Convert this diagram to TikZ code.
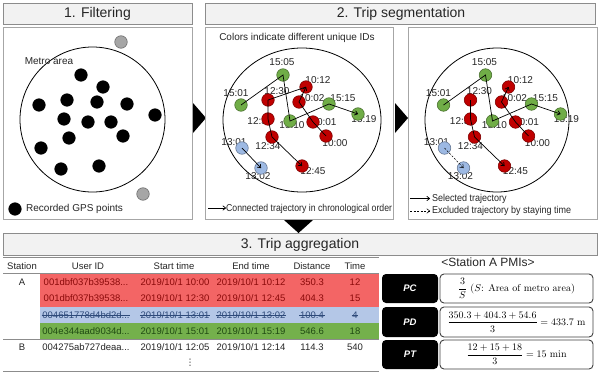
\documentclass[tikz,border=0pt]{standalone}
\usepackage[no-math]{fontspec}
\setsansfont{Liberation Sans}
\renewcommand{\familydefault}{\sfdefault}
\newfontfamily\narrowA[FakeStretch=0.87]{Liberation Sans}
\newfontfamily\narrowB[FakeStretch=0.90]{Liberation Sans}
\newfontfamily\dejavu{DejaVu Sans}
\usetikzlibrary{arrows.meta}
\definecolor{cText}{HTML}{262626}
\definecolor{cTitle}{HTML}{F2F2F2}
\definecolor{cBorder}{HTML}{8C8C8C}
\definecolor{cPanel}{HTML}{A6A6A6}
\definecolor{cr}{HTML}{C00000}
\definecolor{cg}{HTML}{70AD47}
\definecolor{cb}{HTML}{9DB9E3}
\definecolor{cgray}{HTML}{A6A6A6}
\definecolor{bandR}{HTML}{F36565}
\definecolor{bandB}{HTML}{B4C7E7}
\definecolor{bandG}{HTML}{74B04C}
\definecolor{txtR}{HTML}{8B0A0A}
\definecolor{txtB}{HTML}{2E4A7A}
\definecolor{txtG}{HTML}{1F4A12}
\definecolor{boxEdge}{HTML}{404040}
\tikzset{
  titlebox/.style={draw=cBorder, fill=cTitle, line width=0.8pt},
  panel/.style={draw=cPanel, line width=0.8pt},
  ttl/.style={font=\fontsize{14}{14}\selectfont, text=cText, inner sep=0pt},
  lbl/.style={font=\fontsize{10}{10}\selectfont, text=cText, inner sep=0pt},
  gps/.style={circle, minimum size=12.5pt, inner sep=0pt, fill=#1, draw=#1!65!black, line width=0.6pt},
  traj/.style={line width=0.7pt, -{To[length=3.5pt,width=5pt]}},
  trajp/.style={line width=0.7pt},
  tab/.style={font=\fontsize{9.5}{9.5}\selectfont, inner sep=0pt, text=cText},
  tline/.style={draw=cBorder, line width=0.9pt},
  pmikey/.style={fill=black, rounded corners=4pt},
  pmival/.style={draw=boxEdge, fill=white, line width=0.9pt, rounded corners=4pt},
  pmitxt/.style={font=\fontsize{9.5}{9.5}\selectfont\bfseries\itshape, text=white, inner sep=0pt},
  formula/.style={font=\fontsize{10}{12}\selectfont\rmfamily, inner sep=0pt, text=black},
}
\newcommand\tripscatter[1]{%
  \foreach \n/\t/\x/\y/\lx/\ly/\c in {1505/15:05/283/75/282/62/cg, 1501/15:01/241/105/236/93/cg, 1230/12:30/268/100/277/91/cr, 1012/10:12/306/87/318/80/cr, 1002/10:02/299/102/312/98/cr, 1515/15:15/329/104/343/98/cg, 1519/15:19/358/114/364/119/cg, 1232/12:32/268/119/260/121/cr, 1510/15:10/290/121/292/125/cg, 1001/10:01/313/122/324/122/cr, 1000/10:00/326/136/335/143/cr, 1234/12:34/272/137/268/146/cr, 1301/13:01/242/148/234/142/cb, 1302/13:02/261/168/258/176/cb, 1245/12:45/302/166/313/171/cr}{%
    \node[lbl] (#1l\n) at (\lx,\ly) {\t};
  }
  \foreach \n/\t/\x/\y/\lx/\ly/\c in {1505/15:05/283/75/282/62/cg, 1501/15:01/241/105/236/93/cg, 1230/12:30/268/100/277/91/cr, 1012/10:12/306/87/318/80/cr, 1002/10:02/299/102/312/98/cr, 1515/15:15/329/104/343/98/cg, 1519/15:19/358/114/364/119/cg, 1232/12:32/268/119/260/121/cr, 1510/15:10/290/121/292/125/cg, 1001/10:01/313/122/324/122/cr, 1000/10:00/326/136/335/143/cr, 1234/12:34/272/137/268/146/cr, 1301/13:01/242/148/234/142/cb, 1302/13:02/261/168/258/176/cb, 1245/12:45/302/166/313/171/cr}{%
    \node[gps=\c] (#1\n) at (\x,\y) {};
  }
}
\newcommand\tabrow[8]{%
  \node[tab,text=#3] (#1id) at (86,#2) {#4};
  \node[tab,text=#3] (#1st) at (175,#2) {#5};
  \node[tab,text=#3] (#1en) at (251,#2) {#6};
  \node[tab,text=#3] (#1di) at (312,#2) {#7};
  \node[tab,text=#3] (#1ti) at (355,#2) {#8};
}
\begin{document}
\begin{tikzpicture}[x=1pt,y=-1pt]
\useasboundingbox (0,0) rectangle (600,375);
\fill[white] (0,0) rectangle (600,375);

% ---------- panel 1 ----------
\draw[titlebox] (3,3) rectangle (192,24);
\node[ttl] (t1) at (97.5,13.8) {1. Filtering};
\draw[panel] (3,27) rectangle (192,219);
\draw[line width=0.8pt] (92.5,119.5) circle[radius=72.5pt];
\node[lbl] (metro) at (49,61) {Metro area};
\foreach \i/\x/\y in {1/81/75,2/103/87,3/39/105,4/67/100,5/97/102,6/127/104,7/155/115,8/64/119,9/88/122,10/111/122,11/69/138,12/123/136,13/41/148,14/61/169,15/99/166}{
  \node[gps=black] (k\i) at (\x,\y) {};
}
\node[gps=cgray] (gr1) at (121,42) {};
\node[gps=cgray] (gr2) at (143,194) {};
\node[gps=black] (legk) at (15,209) {};
\node[lbl, anchor=west] (legkt) at (26,209) {Recorded GPS points};

% arrows between panels
\fill[black] (193,103) -- (206,118) -- (193,133) -- cycle;
\fill[black] (395,103) -- (408,118) -- (395,133) -- cycle;
\fill[black] (284,220) -- (313,220) -- (298.5,233) -- cycle;

% ---------- panel 2 ----------
\draw[titlebox] (205,3) rectangle (595,24);
\node[ttl] (t2) at (401,13.8) {2. Trip segmentation};
\draw[panel] (205,27) rectangle (393,219);
\node[lbl] (colors) at (297,38) {Colors indicate different unique IDs};
\draw[line width=0.8pt] (302,120) ellipse[x radius=79pt, y radius=72pt];
\tripscatter{a}
\draw[traj] (a1501.center) -- (a1505.center) -- (a1510.center) -- (a1515.center) -- (a1519.center);
\draw[traj] (a1000.center) -- (a1001.center) -- (a1002.center) -- (a1012.center);
\draw[trajp] (a1012.center) -- (a1230.center);
\draw[traj] (a1230.center) -- (a1232.center) -- (a1234.center) -- (a1245.center);
\draw[traj] (a1301.center) -- (a1302.center);
\coordinate (lg2s) at (208,208);
\coordinate (lg2e) at (226,208);
\draw[traj] (lg2s) -- (lg2e);
\node[lbl, anchor=west, font=\fontsize{10}{10}\narrowA] (lg2t) at (226,208.5) {Connected trajectory in chronological order};

% ---------- panel 3 ----------
\draw[panel] (408,27) rectangle (597,219);
\draw[line width=0.8pt] (497,120) ellipse[x radius=72pt, y radius=72pt];
\begin{scope}[xshift=202.5pt]
\tripscatter{b}
\end{scope}
\draw[traj] (b1501.center) -- (b1505.center) -- (b1510.center) -- (b1515.center) -- (b1519.center);
\draw[traj] (b1000.center) -- (b1001.center) -- (b1002.center) -- (b1012.center);
\draw[traj] (b1230.center) -- (b1232.center) -- (b1234.center) -- (b1245.center);
\draw[traj, dash pattern=on 2pt off 1.5pt, line width=0.5pt] (b1301.center) -- (b1302.center);
\coordinate (lg3as) at (410,198.5);
\coordinate (lg3ae) at (430,198.5);
\coordinate (lg3bs) at (410,211);
\coordinate (lg3be) at (430,211);
\draw[traj] (lg3as) -- (lg3ae);
\draw[traj, dash pattern=on 2pt off 1.5pt, line width=0.5pt] (lg3bs) -- (lg3be);
\node[lbl, anchor=west, font=\fontsize{10}{10}\narrowB] (lg3at) at (432,198.5) {Selected trajectory};
\node[lbl, anchor=west, font=\fontsize{10}{10}\narrowB] (lg3bt) at (432,211) {Excluded trajectory by staying time};

% ---------- section 3 ----------
\draw[titlebox] (3,233) rectangle (597,255);
\node[ttl] (t3) at (300,244.5) {3. Trip aggregation};

% table
\fill[bandR] (40,273) rectangle (379,307);
\fill[bandB] (40,307) rectangle (379,323);
\fill[bandG] (40,323) rectangle (379,339);
\draw[tline] (3,257.5) -- (379,257.5);
\draw[tline] (3,273) -- (379,273);
\draw[tline] (3,339) -- (379,339);
\draw[tline] (3,371.5) -- (379,371.5);
\node[tab] (hst) at (22,266) {Station};
\node[tab] (hid) at (88,266) {User ID};
\node[tab] (hsa) at (174,266) {Start time};
\node[tab] (hen) at (251,266) {End time};
\node[tab] (hdi) at (312,266) {Distance};
\node[tab] (hti) at (355,266) {Time};
\node[tab] (stA) at (22,282) {A};
\node[tab] (stB) at (22,347.5) {B};
\tabrow{ra}{282}{txtR}{001dbf037b39538...}{2019/10/1 10:00}{2019/10/1 10:12}{350.3}{12}
\tabrow{rb}{298}{txtR}{001dbf037b39538...}{2019/10/1 12:30}{2019/10/1 12:45}{404.3}{15}
\tabrow{rc}{315}{txtB}{004651778d4bd2d...}{2019/10/1 13:01}{2019/10/1 13:02}{100.4}{4}
\tabrow{rd}{331}{txtG}{004e344aad9034d...}{2019/10/1 15:01}{2019/10/1 15:19}{546.6}{18}
\tabrow{re}{347.5}{cText}{004275ab727deaa...}{2019/10/1 12:05}{2019/10/1 12:14}{114.3}{540}
\foreach \s in {id,st,en,di,ti}{
  \draw[txtB, line width=0.6pt] ([xshift=-0.5pt]rc\s.west) -- ([xshift=0.5pt]rc\s.east);
}
\node[tab, font=\fontsize{9}{9}\dejavu] (vd) at (190,363) {⋮};

% PMIs
\node[font=\fontsize{12}{12}\selectfont, text=cText, inner sep=0pt] (pmih) at (488,262.5) {<Station A PMIs>};
\fill[pmikey] (382,274) rectangle (438,303);
\draw[pmival] (440,274) rectangle (593,303);
\fill[pmikey] (382,307) rectangle (438,337);
\draw[pmival] (440,307) rectangle (593,337);
\fill[pmikey] (382,340) rectangle (438,369);
\draw[pmival] (440,340) rectangle (593,369);
\node[pmitxt] (pc) at (410,288.5) {PC};
\node[pmitxt] (pd) at (410,322) {PD};
\node[pmitxt] (pt) at (410,354.5) {PT};
\node[formula] (fpc) at (516.5,288.5) {$\displaystyle\frac{3}{S}$ ($S$: Area of metro area)};
\node[formula] (fpd) at (516.5,322) {$\displaystyle\frac{350.3+404.3+54.6}{3}=433.7\ \mathrm{m}$};
\node[formula] (fpt) at (516.5,354.5) {$\displaystyle\frac{12+15+18}{3}=15\ \mathrm{min}$};
\end{tikzpicture}
\end{document}
